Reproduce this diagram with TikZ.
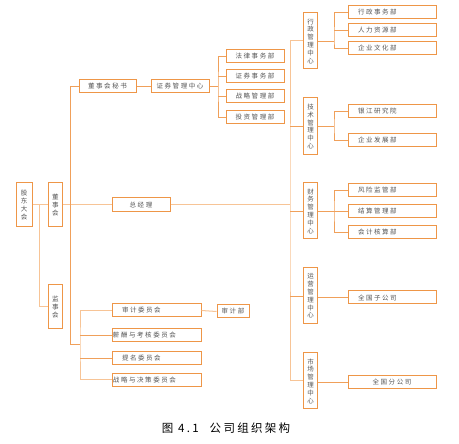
\documentclass[tikz,border=0pt]{standalone}
\usepackage{fontspec}
\usepackage{xcolor}
\usetikzlibrary{positioning, calc}
\newfontfamily\cjk[LetterSpace=24]{Noto Sans CJK SC}
\newfontfamily\cjkcap[LetterSpace=20]{Noto Sans CJK SC}
\definecolor{boxorange}{RGB}{238,150,72}
\definecolor{lineorange}{RGB}{240,160,90}
\definecolor{linelight}{RGB}{247,196,150}
\definecolor{textgray}{RGB}{85,85,85}

\begin{document}
\begin{tikzpicture}[
    x=1pt, y=-1pt,
    every node/.style={font=\cjk\fontsize{6.5}{7.8}\selectfont, text=textgray},
    orgbox/.style={draw=boxorange, line width=1pt, fill=white,
                   inner sep=0pt, minimum height=13},
    vbox/.style={orgbox, minimum width=14, align=center},
    leftbox/.style={orgbox, text width=#1, align=left, inner xsep=10},
    link/.style={draw=lineorange, line width=0.8pt},
    softlink/.style={draw=linelight, line width=1pt}
  ]

  \useasboundingbox (0,0) rectangle (459,444);

  % ============================================================
  %  Left part: shareholders, board, supervisors
  % ============================================================
  \node[vbox, minimum width=16, minimum height=44] (gudong) at (24,205)
    {股\\东\\大\\会};
  \node[vbox, minimum height=44] (dongshi) at (55.5,205) {董\\事\\会};
  \node[vbox, minimum height=44] (jianshi) at (55.5,307) {监\\事\\会};

  \coordinate (gdbus) at (39,205);
  \draw[softlink] (gudong.east) -- (dongshi.west);
  \draw[softlink] (gdbus) |- (jianshi.west);

  % --- board secretary and securities centre ---
  \node[orgbox, minimum width=57] (mishu) at (107.5,86.5) {董事会秘书};
  \node[orgbox, minimum width=58] (zhengquan) at (180,86.5) {证券管理中心};
  \draw[link] (mishu.east) -- (zhengquan.west);

  \node[orgbox, minimum width=58] (falv) at (255,56) {法律事务部};
  \node[orgbox, minimum width=58] (zqsw) at (255,76.5) {证券事务部};
  \node[orgbox, minimum width=58] (zhanlue) at (255,96.5) {战略管理部};
  \node[orgbox, minimum width=58] (touzi) at (255,117) {投资管理部};

  \coordinate (zqbus) at (218,86.5);
  \draw[link] (zhengquan.east) -- (zqbus);
  \draw[link] (falv.west) -| (zqbus) |- (touzi.west);
  \draw[link] (zqsw.west) -- (zqsw.west -| zqbus);
  \draw[link] (zhanlue.west) -- (zhanlue.west -| zqbus);

  % --- general manager ---
  \node[orgbox, minimum width=58, minimum height=14] (zjl) at (141,205)
    {总经理};
  \draw[softlink] (dongshi.east) -- (zjl.west);

  % --- committees ---
  \node[leftbox=69] (shenji) at (156.5,310.5) {审计委员会};
  \node[leftbox=87, inner xsep=1] (xinchou) at (156.5,335) {薪酬与考核委员会};
  \node[leftbox=69] (timing) at (156.5,358.5) {提名委员会};
  \node[leftbox=87, inner xsep=1] (juece) at (156.5,380) {战略与决策委员会};
  \node[orgbox, minimum width=32] (sjb) at (233,311.5) {审计部};
  \draw[softlink] (shenji.east) -- (sjb.west);

  % board trunk
  \coordinate (dstrunk) at (70,344);
  \coordinate (wybus) at (80,344);
  \draw[link] (mishu.west) -| (dstrunk) -- (wybus);
  \draw[softlink] (shenji.west) -| (wybus) |- (juece.west);
  \draw[link] (xinchou.west) -- (xinchou.west -| wybus);
  \draw[link] (timing.west) -- (timing.west -| wybus);

  % ============================================================
  %  Right part: management centres
  % ============================================================
  \node[vbox, minimum height=56] (xingzheng) at (310.5,41)
    {行\\政\\管\\理\\中\\心};
  \node[vbox, minimum height=57] (jishu) at (310.5,126.5)
    {技\\术\\管\\理\\中\\心};
  \node[vbox, minimum height=56] (caiwu) at (310.5,211)
    {财\\务\\管\\理\\中\\心};
  \node[vbox, minimum height=56] (yunying) at (310.5,296)
    {运\\营\\管\\理\\中\\心};
  \node[vbox, minimum height=56] (shichang) at (310.5,381)
    {市\\场\\管\\理\\中\\心};

  \coordinate (zxbus) at (290,205);
  \draw[softlink] (zjl.east) -- (zxbus);
  \draw[softlink] (xingzheng.west) -| (zxbus) |- (shichang.west);
  \draw[link] (jishu.west) -- (jishu.west -| zxbus);
  \draw[link] (caiwu.west) -- (caiwu.west -| zxbus);
  \draw[link] (yunying.west) -- (yunying.west -| zxbus);

  % --- departments ---
  \node[leftbox=68] (xzsw) at (392,12.5) {行政事务部};
  \node[leftbox=68] (renli) at (392,30.5) {人力资源部};
  \node[leftbox=68] (wenhua) at (392,48) {企业文化部};
  \node[leftbox=68] (yinjiang) at (392,111.5) {银江研究院};
  \node[leftbox=68] (fazhan) at (392,140.5) {企业发展部};
  \node[leftbox=68] (fengxian) at (392,190.5) {风险监管部};
  \node[leftbox=68] (jiesuan) at (392,211.5) {结算管理部};
  \node[leftbox=68] (kuaiji) at (392,232.5) {会计核算部};
  \node[leftbox=68] (zigongsi) at (392,297.5) {全国子公司};
  \node[orgbox, minimum width=88] (fengongsi) at (392,382.5) {全国分公司};

  \coordinate (xzbus) at (334,41);
  \draw[link] (xingzheng.east) -- (xzbus);
  \draw[link] (xzsw.west) -| (xzbus) |- (wenhua.west);
  \draw[link] (renli.west) -- (renli.west -| xzbus);

  \coordinate (jsbus) at (334,126.5);
  \draw[link] (jishu.east) -- (jsbus);
  \draw[link] (yinjiang.west) -| (jsbus) |- (fazhan.west);

  \coordinate (cwbus) at (334,211);
  \draw[link] (caiwu.east) -- (cwbus);
  \draw[link] (fengxian.west) -| (cwbus) |- (kuaiji.west);
  \draw[link] (jiesuan.west) -- (jiesuan.west -| cwbus);

  \draw[link] (yunying.east |- zigongsi.west) -- (zigongsi.west);
  \draw[link] (shichang.east |- fengongsi.west) -- (fengongsi.west);

  % caption
  \node[font=\cjkcap\fontsize{11.5}{13}\selectfont, text=black] (caption)
    at (226,428) {图 4.1\hspace{11pt}公司组织架构};

\end{tikzpicture}
\end{document}
